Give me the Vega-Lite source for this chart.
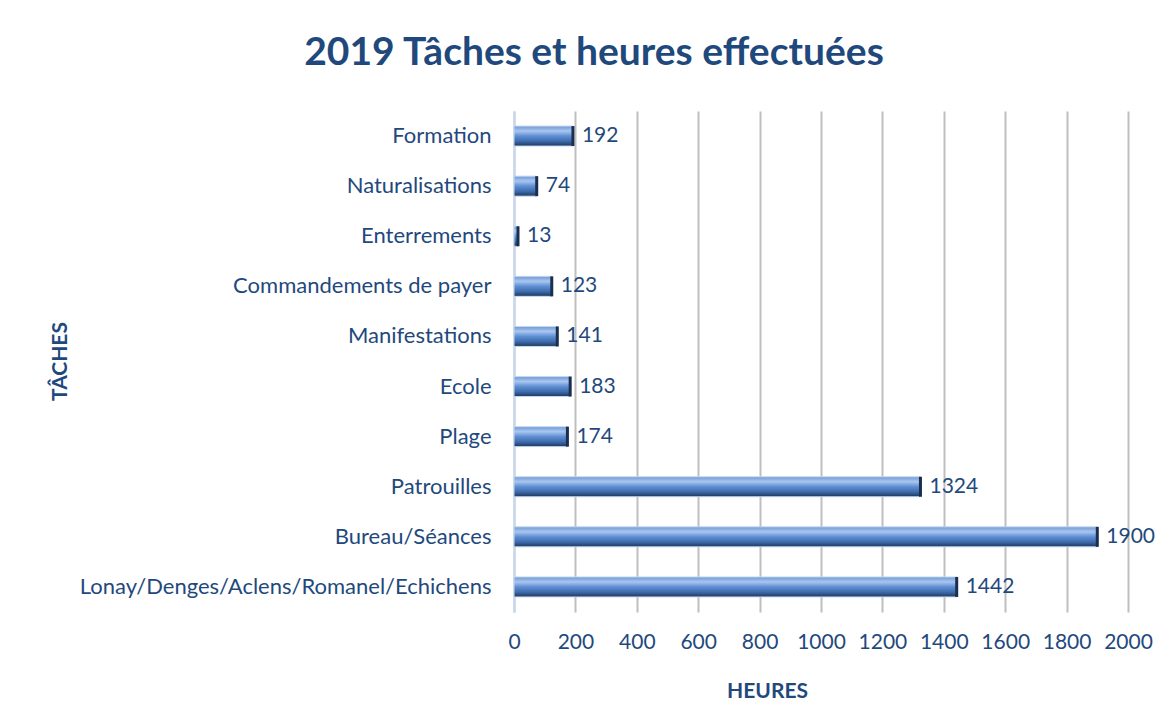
{
  "$schema": "https://vega.github.io/schema/vega-lite/v6.json",
  "width": 614,
  "height": 501,
  "autosize": {"type": "none"},
  "padding": {"left": 514, "top": 111, "right": 43, "bottom": 110},
  "background": "white",
  "title": {
    "text": "2019 Tâches et heures effectuées",
    "font": "Lato",
    "fontSize": 39,
    "fontWeight": "bold",
    "color": "#1F497D",
    "anchor": "middle",
    "frame": "group",
    "dx": -227,
    "offset": 38
  },
  "data": {
    "values": [
      {"tache": "Formation", "heures": 192},
      {"tache": "Naturalisations", "heures": 74},
      {"tache": "Enterrements", "heures": 13},
      {"tache": "Commandements de payer", "heures": 123},
      {"tache": "Manifestations", "heures": 141},
      {"tache": "Ecole", "heures": 183},
      {"tache": "Plage", "heures": 174},
      {"tache": "Patrouilles", "heures": 1324},
      {"tache": "Bureau/Séances", "heures": 1900},
      {"tache": "Lonay/Denges/Aclens/Romanel/Echichens", "heures": 1442}
    ]
  },
  "encoding": {
    "y": {
      "field": "tache",
      "type": "nominal",
      "sort": null,
      "scale": {"paddingInner": 0.6, "paddingOuter": 0.3},
      "axis": {
        "title": "TÂCHES",
        "titleFont": "Lato",
        "titleFontSize": 21,
        "titleFontWeight": "bold",
        "titleColor": "#1F497D",
        "titleAngle": 270,
        "titleX": -454,
        "titleY": 250,
        "titleAlign": "center",
        "titleBaseline": "middle",
        "labelFont": "Lato",
        "labelFontSize": 22,
        "labelColor": "#1F497D",
        "labelPadding": 23,
        "labelLimit": 0,
        "labelOverlap": false,
        "ticks": false,
        "domain": true,
        "domainColor": "#C6D9F1",
        "domainWidth": 2,
        "grid": false
      }
    }
  },
  "layer": [
    {
      "mark": {
        "type": "bar",
        "size": 20,
        "stroke": "#C6D9F1",
        "strokeWidth": 1,
        "color": {
          "gradient": "linear",
          "x1": 0, "y1": 0, "x2": 0, "y2": 1,
          "stops": [
            {"offset": 0, "color": "#6F98D4"},
            {"offset": 0.25, "color": "#A9C6F0"},
            {"offset": 0.5, "color": "#5E8ED3"},
            {"offset": 0.75, "color": "#3F6DAE"},
            {"offset": 1, "color": "#1C365C"}
          ]
        }
      },
      "encoding": {
        "x": {
          "field": "heures",
          "type": "quantitative",
          "scale": {"domain": [0, 2000], "nice": false},
          "axis": {
            "values": [0, 200, 400, 600, 800, 1000, 1200, 1400, 1600, 1800, 2000],
            "format": "d",
            "labelOverlap": false,
            "labelFlush": false,
            "title": "HEURES",
            "titleFont": "Lato",
            "titleFontSize": 21,
            "titleFontWeight": "bold",
            "titleColor": "#1F497D",
            "titleX": 253,
            "titleY": 79,
            "titleAlign": "center",
            "titleBaseline": "middle",
            "labelFont": "Lato",
            "labelFontSize": 21,
            "labelColor": "#1F497D",
            "labelPadding": 19,
            "ticks": false,
            "domain": false,
            "grid": true,
            "gridColor": "#BFBFBF",
            "gridWidth": 2
          }
        }
      }
    },
    {
      "mark": {"type": "tick", "orient": "vertical", "size": 20, "thickness": 3, "color": "#1A2F4F", "opacity": 1},
      "encoding": {
        "x": {"field": "heures", "type": "quantitative"}
      }
    },
    {
      "mark": {"type": "text", "align": "left", "baseline": "middle", "dx": 9, "font": "Lato", "fontSize": 21, "color": "#1F497D"},
      "encoding": {
        "x": {"field": "heures", "type": "quantitative"},
        "text": {"field": "heures", "type": "quantitative"}
      }
    }
  ],
  "config": {
    "view": {"stroke": null}
  }
}
